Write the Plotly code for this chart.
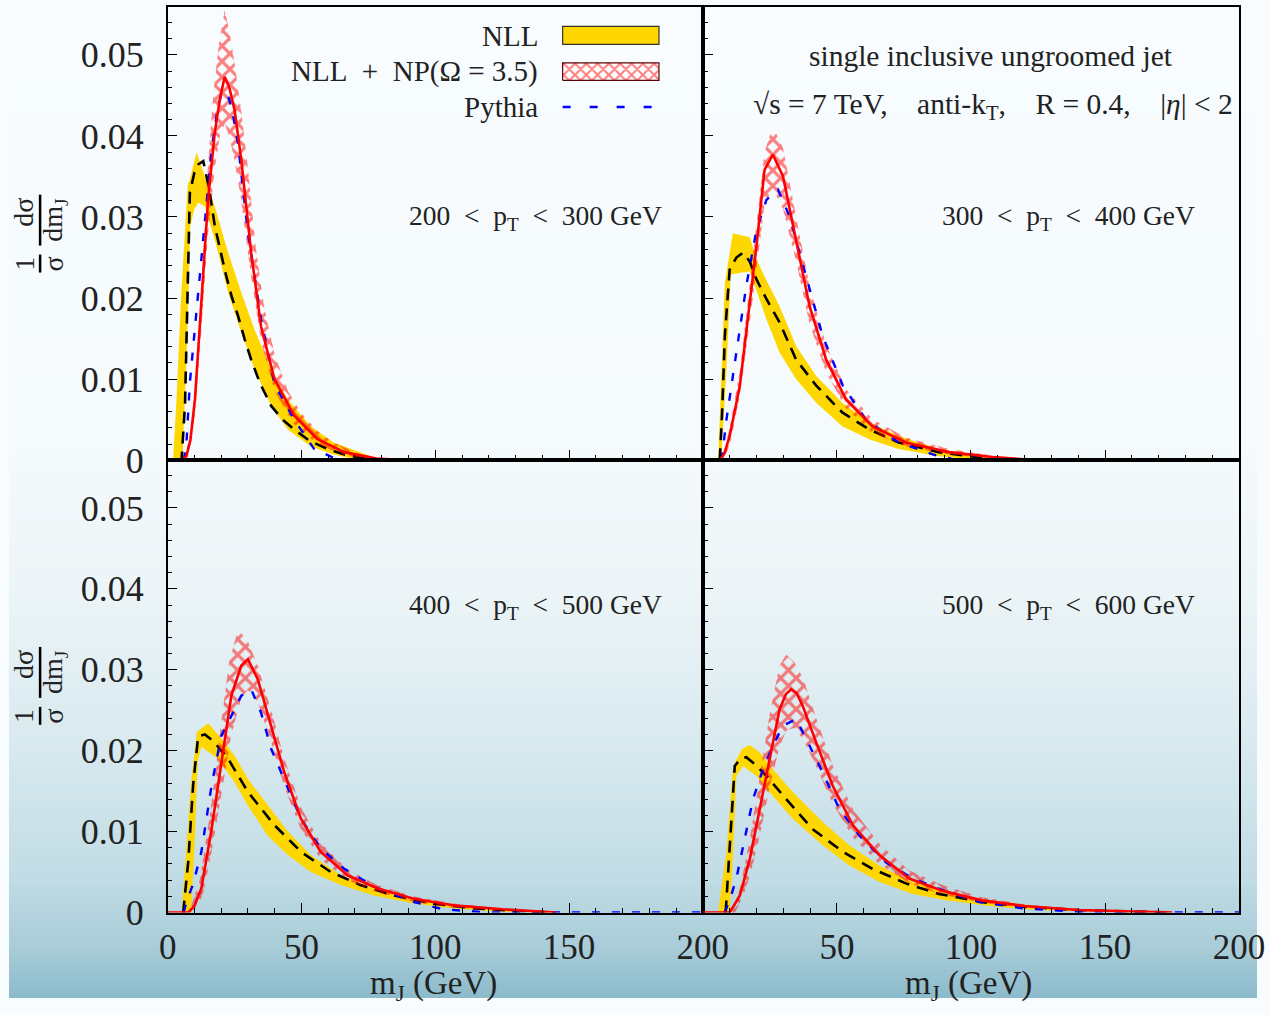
import plotly.graph_objects as go

# ---------------- data ----------------
p1_nll_m = [4, 5.2, 6.5, 7.1, 8.3, 10, 11.5, 13.3, 15.5, 17.6, 19.8, 21.9, 24, 26.3, 28.7, 31.2, 34.5, 38.7, 43, 47.3, 53, 59.7, 66, 72, 80, 90]
p1_nll_v = [0, 0, 0.007, 0.0158, 0.033, 0.0355, 0.0365, 0.0369, 0.0335, 0.0289, 0.0256, 0.0227, 0.0201, 0.0178, 0.015, 0.0124, 0.0095, 0.0067, 0.005, 0.0038, 0.0024, 0.0014, 0.0007, 0.0003, 0.0001, 0]
p1_nllhi_m = [2, 3.3, 5, 7.5, 8.2, 10.8, 13.9, 17.6, 22.6, 27.5, 32.5, 38.7, 44.9, 53.5, 62, 72, 80]
p1_nllhi_v = [0, 0.0075, 0.02, 0.034, 0.0345, 0.038, 0.035, 0.0313, 0.0256, 0.0207, 0.0161, 0.0112, 0.0075, 0.0042, 0.0022, 0.001, 0]
p1_nlllo_m = [5.5, 7, 8.5, 10, 11.5, 13.9, 17.6, 22.6, 27.5, 32.5, 38.7, 44.9, 53.5, 62, 72]
p1_nlllo_v = [0, 0.012, 0.029, 0.031, 0.0318, 0.0313, 0.0272, 0.0207, 0.0158, 0.0112, 0.0067, 0.0038, 0.0017, 0.0007, 0]
p1_np_m = [0, 5.2, 7, 8.5, 10.2, 12.6, 15.1, 17.6, 19.5, 21.3, 23, 25, 27.5, 31.2, 34.9, 39.9, 47.3, 56, 66, 78, 90]
p1_np_v = [0, 0, 0.0005, 0.0025, 0.0075, 0.0198, 0.0321, 0.0404, 0.0445, 0.0473, 0.046, 0.0432, 0.0371, 0.0256, 0.0165, 0.010, 0.0055, 0.0026, 0.001, 0.0002, 0]
p1_nphi_m = [6, 9, 11, 13, 15, 17, 19, 21.3, 23, 25, 27.5, 30, 33, 36, 40, 45, 50, 56, 62, 70, 78]
p1_nphi_v = [0, 0.004, 0.012, 0.024, 0.036, 0.045, 0.051, 0.0555, 0.053, 0.049, 0.043, 0.036, 0.026, 0.019, 0.013, 0.0085, 0.0058, 0.0036, 0.0022, 0.001, 0]
p1_nplo_m = [7, 10, 12.6, 15.1, 17.6, 19.5, 21.3, 23, 25, 27.5, 31, 35, 40, 47, 56, 66, 78]
p1_nplo_v = [0, 0.005, 0.016, 0.028, 0.036, 0.040, 0.0415, 0.040, 0.037, 0.032, 0.023, 0.0145, 0.0085, 0.0045, 0.002, 0.0006, 0]
p1_py_m = [6, 7, 8.3, 10.8, 13.3, 16.4, 18.5, 20.1, 21.5, 22.6, 24.5, 26.3, 30, 34.9, 39.9, 47.3, 54.7, 62, 70, 200]
p1_py_v = [0, 0.002, 0.0096, 0.0186, 0.028, 0.0383, 0.043, 0.0453, 0.0455, 0.045, 0.0425, 0.039, 0.028, 0.0174, 0.0094, 0.005, 0.0014, 0.0003, 0, 0]

p2_nll_m = [6.3, 7.2, 8.2, 10, 12.5, 15, 17.5, 20, 24, 28.6, 34.8, 42.3, 52, 62, 73, 88, 104, 114]
p2_nll_v = [0, 0.006, 0.0153, 0.0235, 0.025, 0.0256, 0.0245, 0.0223, 0.0197, 0.017, 0.0124, 0.0092, 0.0059, 0.0038, 0.0022, 0.001, 0.0003, 0]
p2_nllhi_m = [5.7, 8.2, 11.2, 17.5, 20, 23.7, 28.6, 34.8, 42.3, 52, 62, 73, 88, 104, 114]
p2_nllhi_v = [0, 0.0219, 0.028, 0.0275, 0.0248, 0.0222, 0.019, 0.0141, 0.0104, 0.0071, 0.0047, 0.003, 0.0014, 0.0005, 0]
p2_nlllo_m = [6.8, 8.8, 10.4, 17.5, 23.7, 28.6, 34.8, 42.3, 52, 62, 73, 88, 104]
p2_nlllo_v = [0, 0.0112, 0.0229, 0.0233, 0.0174, 0.0133, 0.010, 0.0071, 0.0042, 0.0026, 0.0014, 0.0005, 0]
p2_np_m = [0, 6.3, 8, 10, 13.8, 17.5, 20, 23, 26.1, 29.9, 34.8, 39.8, 46, 53.4, 63.2, 75.7, 91.8, 108, 125]
p2_np_v = [0, 0, 0.0008, 0.003, 0.0092, 0.0194, 0.0264, 0.0358, 0.0377, 0.035, 0.0272, 0.019, 0.0124, 0.0075, 0.0042, 0.0022, 0.001, 0.0004, 0]
p2_nphi_m = [7, 10, 13.8, 17.5, 20, 23, 26.1, 29.9, 34.8, 39.8, 46, 53.4, 63.2, 75.7, 91.8, 108, 125]
p2_nphi_v = [0, 0.004, 0.011, 0.022, 0.029, 0.038, 0.0412, 0.0385, 0.030, 0.0215, 0.0142, 0.0088, 0.0051, 0.0028, 0.0014, 0.0006, 0]
p2_nplo_m = [8, 10.5, 13.8, 17.5, 20, 23, 26.1, 29.9, 34.8, 39.8, 46, 53.4, 63.2, 75.7, 91.8, 108, 120]
p2_nplo_v = [0, 0.0025, 0.008, 0.017, 0.0235, 0.0315, 0.0335, 0.031, 0.0245, 0.0168, 0.0108, 0.0064, 0.0034, 0.0017, 0.0007, 0.0002, 0]
p2_py_m = [7, 8.8, 12.5, 16.2, 20, 23.7, 28, 32.3, 38.5, 44.7, 52.2, 60.8, 73, 86, 95, 200]
p2_py_v = [0, 0.005, 0.0133, 0.0215, 0.0284, 0.0321, 0.0334, 0.0301, 0.0227, 0.0153, 0.0092, 0.005, 0.0022, 0.0007, 0, 0]

p3_nll_m = [5.8, 7.7, 9.5, 11.4, 13.9, 17, 22.6, 30, 39.9, 49.8, 61, 72, 84.5, 99.4, 115, 130, 145]
p3_nll_v = [0, 0.0063, 0.0157, 0.0218, 0.022, 0.0212, 0.019, 0.0149, 0.0108, 0.0075, 0.005, 0.0034, 0.0021, 0.0011, 0.0005, 0.0002, 0]
p3_nllhi_m = [5.2, 8.9, 10.9, 15.1, 19.4, 25, 30, 37.4, 44.9, 53.5, 64.7, 77, 92, 107, 125, 145]
p3_nllhi_v = [0, 0.0165, 0.0223, 0.0234, 0.0218, 0.0194, 0.0165, 0.0132, 0.010, 0.0071, 0.0046, 0.003, 0.0017, 0.0009, 0.0003, 0]
p3_nlllo_m = [8.7, 10, 11.2, 12.5, 18.8, 25, 30, 37.4, 44.9, 53.5, 64.7, 77, 92, 107, 125, 140]
p3_nlllo_v = [0, 0.008, 0.0185, 0.0205, 0.019, 0.0161, 0.0132, 0.0095, 0.0071, 0.005, 0.0034, 0.0021, 0.0011, 0.0005, 0.0001, 0]
p3_np_m = [0, 7.7, 10, 12.6, 16.4, 20, 23.8, 27.5, 30, 33.7, 38.7, 43.6, 49.8, 57.2, 67.2, 78.3, 91.9, 106.8, 125, 145]
p3_np_v = [0, 0, 0.0008, 0.003, 0.0103, 0.0181, 0.0268, 0.0305, 0.0313, 0.0288, 0.0231, 0.0173, 0.0116, 0.0075, 0.0046, 0.003, 0.0017, 0.0009, 0.0004, 0]
p3_nphi_m = [8, 12, 16.4, 20, 23, 26.3, 30, 33.7, 38.7, 43.6, 49.8, 57.2, 67.2, 78.3, 91.9, 106.8, 125, 145]
p3_nphi_v = [0, 0.004, 0.0135, 0.0235, 0.031, 0.035, 0.0335, 0.0305, 0.025, 0.019, 0.013, 0.0086, 0.0053, 0.0034, 0.002, 0.0011, 0.0005, 0]
p3_nplo_m = [9, 13, 16.4, 20, 23.8, 27.5, 30, 33.7, 38.7, 43.6, 49.8, 57.2, 67.2, 78.3, 91.9, 106.8, 125, 140]
p3_nplo_v = [0, 0.002, 0.0075, 0.0145, 0.022, 0.0265, 0.0275, 0.026, 0.021, 0.0155, 0.0103, 0.0066, 0.004, 0.0025, 0.0013, 0.0006, 0.0002, 0]
p3_py_m = [6, 7, 9.5, 12.6, 16.4, 20, 23.8, 27.5, 31.2, 34.9, 38.7, 43.6, 49.8, 57.2, 66, 78.3, 92, 103, 120, 200]
p3_py_v = [0, 0.0013, 0.0035, 0.0075, 0.0157, 0.0218, 0.0243, 0.0268, 0.0276, 0.0247, 0.0202, 0.0165, 0.0116, 0.0079, 0.0054, 0.003, 0.0013, 0.0004, 0, 0]

p4_nll_m = [8.5, 9.4, 10.7, 11.9, 14, 16.2, 19.5, 23.7, 31.1, 41, 52.2, 63.3, 75.7, 88, 104, 120, 140, 160, 175]
p4_nll_v = [0, 0.005, 0.0116, 0.0181, 0.019, 0.0192, 0.0183, 0.0169, 0.014, 0.0103, 0.0075, 0.0054, 0.0036, 0.0023, 0.0013, 0.0007, 0.0003, 0.0001, 0]
p4_nllhi_m = [5.7, 8.8, 11.3, 14.6, 17.5, 21.2, 26.1, 33.5, 44.7, 54.6, 65.8, 78.2, 90.7, 106.8, 125, 145, 170]
p4_nllhi_v = [0, 0.0075, 0.0181, 0.0202, 0.0207, 0.0198, 0.0177, 0.0149, 0.0112, 0.0083, 0.0058, 0.0038, 0.0025, 0.0015, 0.0008, 0.0003, 0]
p4_nlllo_m = [10, 11.3, 12.5, 15, 19.9, 26.1, 33.5, 44.7, 54.6, 65.8, 78.2, 90.7, 106.8, 125, 150, 165]
p4_nlllo_v = [0, 0.0075, 0.0169, 0.0181, 0.0169, 0.0144, 0.0116, 0.0083, 0.0058, 0.0038, 0.0023, 0.0015, 0.0008, 0.0003, 0.0001, 0]
p4_np_m = [0, 10, 11.5, 13.8, 17.5, 21.2, 24.9, 28.6, 31, 33, 35, 37.3, 42.3, 48.4, 55.9, 65.8, 77, 89.3, 104, 120, 140, 160, 175]
p4_np_v = [0, 0, 0.0008, 0.0021, 0.0066, 0.0128, 0.019, 0.0251, 0.027, 0.0276, 0.0271, 0.0255, 0.021, 0.0157, 0.0108, 0.0071, 0.0042, 0.0027, 0.0015, 0.0008, 0.0003, 0.0001, 0]
p4_nphi_m = [11, 13.8, 17.5, 21.2, 24.9, 28.6, 31.1, 34, 37.3, 42.3, 48.4, 55.9, 65.8, 77, 89.3, 104, 120, 140, 160, 175]
p4_nphi_v = [0, 0.003, 0.009, 0.0165, 0.0245, 0.0305, 0.0319, 0.031, 0.029, 0.024, 0.0182, 0.0128, 0.0085, 0.0052, 0.0034, 0.0019, 0.001, 0.0004, 0.0001, 0]
p4_nplo_m = [12, 15, 17.5, 21.2, 24.9, 28.6, 31.1, 34, 37.3, 42.3, 48.4, 55.9, 65.8, 77, 89.3, 104, 120, 140, 165]
p4_nplo_v = [0, 0.002, 0.0045, 0.0095, 0.0155, 0.0205, 0.0225, 0.0228, 0.0215, 0.018, 0.0135, 0.0093, 0.006, 0.0036, 0.0022, 0.0012, 0.0006, 0.0002, 0]
p4_py_m = [8.1, 10, 12.5, 16.2, 18.7, 22.4, 26.1, 29.9, 34.8, 39.8, 44.7, 50.9, 58.4, 68.3, 78.3, 90.7, 103, 120, 140, 150, 200]
p4_py_v = [0, 0.0015, 0.0042, 0.01, 0.014, 0.0177, 0.0206, 0.0231, 0.0239, 0.0206, 0.0173, 0.0128, 0.0095, 0.0062, 0.0042, 0.0026, 0.0013, 0.0005, 0.0001, 0, 0]

panel_labels = ["200 < p<sub>T</sub> < 300 GeV", "300 < p<sub>T</sub> < 400 GeV",
                "400 < p<sub>T</sub> < 500 GeV", "500 < p<sub>T</sub> < 600 GeV"]
legend_labels = ["NLL", "NLL + NP(Ω = 3.5)", "Pythia"]
x_ticks = [0, 50, 100, 150, 200]
y_ticks = [0, 0.01, 0.02, 0.03, 0.04, 0.05]

panels = [
    (p1_nll_m, p1_nll_v, p1_nllhi_m, p1_nllhi_v, p1_nlllo_m, p1_nlllo_v, p1_np_m, p1_np_v, p1_nphi_m, p1_nphi_v, p1_nplo_m, p1_nplo_v, p1_py_m, p1_py_v),
    (p2_nll_m, p2_nll_v, p2_nllhi_m, p2_nllhi_v, p2_nlllo_m, p2_nlllo_v, p2_np_m, p2_np_v, p2_nphi_m, p2_nphi_v, p2_nplo_m, p2_nplo_v, p2_py_m, p2_py_v),
    (p3_nll_m, p3_nll_v, p3_nllhi_m, p3_nllhi_v, p3_nlllo_m, p3_nlllo_v, p3_np_m, p3_np_v, p3_nphi_m, p3_nphi_v, p3_nplo_m, p3_nplo_v, p3_py_m, p3_py_v),
    (p4_nll_m, p4_nll_v, p4_nllhi_m, p4_nllhi_v, p4_nlllo_m, p4_nlllo_v, p4_np_m, p4_np_v, p4_nphi_m, p4_nphi_v, p4_nplo_m, p4_nplo_v, p4_py_m, p4_py_v),
]

# ---------------- styling ----------------
# The photographed page shows the figure slightly reduced and shifted, so the figure is
# sized so that, after that, its frame lands where the reference frame is.
SX, SY = 0.976, 0.981
OX, OY = 6.8, 0.0
W, H = 1283, 1019
FONT = "Liberation Serif"
GOLD = "#FFD700"
RED = "#FF0000"
BLUE = "#0000FF"

def px(X):
    return ((X - OX) / SX) / W

def py(Y):
    return 1 - ((Y - OY) / SY) / H

XL = (166, 703)
XR = (703, 1241)
YT = (7, 461)
YB = (461, 914)
YMAX = 0.0559

fig = go.Figure()
axn = ["", "2", "3", "4"]

for i, pdata in enumerate(panels):
    (nm, nv, hm, hv, lm, lv, npm, npv, nhm, nhv, nlm, nlv, pym, pyv) = pdata
    xa = "x" + axn[i]
    ya = "y" + axn[i]
    fig.add_trace(go.Scatter(x=hm + lm[::-1], y=hv + lv[::-1], fill="toself", fillcolor=GOLD,
                             line=dict(width=0, color=GOLD), mode="lines", hoverinfo="skip",
                             showlegend=False, xaxis=xa, yaxis=ya))
    fig.add_trace(go.Scatter(x=nm, y=nv, mode="lines", line=dict(color="black", width=2.6, dash="12px,8px"),
                             showlegend=False, xaxis=xa, yaxis=ya))
    fig.add_trace(go.Scatter(x=nhm + nlm[::-1], y=nhv + nlv[::-1], fill="toself", fillcolor="rgba(0,0,0,0)",
                             fillpattern=dict(shape="x", fgcolor=RED, bgcolor="rgba(0,0,0,0)", size=11, solidity=0.5),
                             line=dict(width=0, color="rgba(0,0,0,0)"), mode="lines", hoverinfo="skip",
                             showlegend=False, xaxis=xa, yaxis=ya))
    fig.add_trace(go.Scatter(x=pym, y=pyv, mode="lines", line=dict(color=BLUE, width=2.4, dash="8px,12px"),
                             showlegend=False, xaxis=xa, yaxis=ya))
    fig.add_trace(go.Scatter(x=npm, y=npv, mode="lines", line=dict(color=RED, width=2.6),
                             showlegend=False, xaxis=xa, yaxis=ya))

fig.add_trace(go.Scatter(x=[147.6, 183.6, 183.6, 147.6, 147.6], y=[0.04685, 0.04685, 0.0490, 0.0490, 0.04685],
                         fill="toself", fillcolor="rgba(255,255,255,0.7)",
                         fillpattern=dict(shape="x", fgcolor=RED, bgcolor="rgba(255,255,255,0.7)", size=8, solidity=0.45),
                         line=dict(width=1.2, color="#5a0000"), mode="lines", showlegend=False, hoverinfo="skip",
                         xaxis="x", yaxis="y"))

shapes = []
stops = [(0, (248, 252, 254)), (450, (245, 250, 252)), (600, (235, 244, 247)), (750, (216, 233, 239)),
         (880, (193, 220, 229)), (950, (168, 204, 216)), (1015, (130, 181, 199))]

def col_at(Y):
    for (y0, c0), (y1, c1) in zip(stops[:-1], stops[1:]):
        if y0 <= Y <= y1:
            t = (Y - y0) / (y1 - y0)
            return "rgb(%d,%d,%d)" % tuple(round(c0[k] + t * (c1[k] - c0[k])) for k in range(3))
    return "rgb(%d,%d,%d)" % stops[-1][1]

step = 5
for fy in range(0, H, step):
    y_top = 1 - fy / H
    y_bot = max(0.0, 1 - (fy + step + 1) / H)
    shapes.append(dict(type="rect", xref="paper", yref="paper", x0=0, x1=1, y0=y_bot, y1=y_top,
                       fillcolor=col_at((fy + step / 2) * SY + OY), line=dict(width=0), layer="below"))

shapes.append(dict(type="rect", xref="x", yref="y", x0=147.6, x1=183.6, y0=0.0513, y1=0.0535,
                   fillcolor=GOLD, line=dict(color="#333", width=1.2)))
shapes.append(dict(type="line", xref="x", yref="y", x0=147.6, x1=182, y0=0.04356, y1=0.04356,
                   line=dict(color=BLUE, width=2.4, dash="8px,19px")))

for off in (0, 453):
    shapes.append(dict(type="line", xref="paper", yref="paper", x0=px(38), x1=px(38), y0=py(195 + off), y1=py(246 + off),
                       line=dict(color="black", width=2.5)))
    shapes.append(dict(type="line", xref="paper", yref="paper", x0=px(38), x1=px(38), y0=py(255 + off), y1=py(273 + off),
                       line=dict(color="black", width=2.5)))

ann = []
nb = "\u00a0"
tfont = dict(family=FONT, size=27.5, color="#222")
lbl_pos = [("x", "y", 185.5, 0.0299), ("x2", "y2", 184.4, 0.0299), ("x3", "y3", 185.5, 0.0378), ("x4", "y4", 184.4, 0.0378)]
for (xr, yr, xv, yv), t in zip(lbl_pos, panel_labels):
    ann.append(dict(xref=xr, yref=yr, x=xv, y=yv, text=t.replace(" < ", nb + nb + "<" + nb + nb),
                    showarrow=False, xanchor="right", yanchor="middle", font=tfont))

lfont = dict(family=FONT, size=29, color="#222")
legend_text = [legend_labels[0], legend_labels[1].replace(" + ", nb + nb + "+" + nb + nb).replace(" ", nb), legend_labels[2]]
for t, yv in zip(legend_text, [0.0523, 0.0479, 0.04356]):
    ann.append(dict(xref="x", yref="y", x=139, y=yv, text=t, showarrow=False,
                    xanchor="right", yanchor="middle", font=lfont))

hfont = dict(family=FONT, size=29.5, color="#222")
ann.append(dict(xref="x2", yref="y2", x=107.4, y=0.0498, text="single inclusive ungroomed jet", showarrow=False,
                xanchor="center", yanchor="middle", font=hfont))
gap = nb * 4
ann.append(dict(xref="x2", yref="y2", x=108.2, y=0.0437,
                text="√s" + nb + "=" + nb + "7 TeV," + gap + "anti-k<sub>T</sub>," + gap + "R" + nb + "=" + nb
                     + "0.4," + gap + "|<i>η</i>|" + nb + "<" + nb + "2",
                showarrow=False, xanchor="center", yanchor="middle", font=hfont))

for xc in (433, 970):
    ann.append(dict(xref="paper", yref="paper", x=px(xc), y=py(987), text="m<sub>J</sub> (GeV)", showarrow=False,
                    xanchor="center", yanchor="middle", font=dict(family=FONT, size=33, color="#222")))

yfont = dict(family=FONT, size=28, color="#222")
for off in (0, 453):
    for x0, y0, t in [(22, 213, "dσ"), (53, 220, "dm<sub>J</sub>"), (22, 264, "1"), (52, 265, "σ")]:
        ann.append(dict(xref="paper", yref="paper", x=px(x0), y=py(y0 + off), text=t, textangle=-90,
                        showarrow=False, xanchor="center", yanchor="middle", font=yfont))

common_x = dict(range=[0, 200], ticks="inside", ticklen=10, tickwidth=1.3, tickcolor="black",
                showline=True, linecolor="black", linewidth=1.5, mirror=True, showgrid=False, zeroline=False,
                minor=dict(dtick=10, ticks="inside", ticklen=5, tickcolor="black", tickwidth=1.2),
                tickfont=dict(family=FONT, size=35, color="#222"), ticklabelstandoff=3)
common_y = dict(range=[0, YMAX], ticks="inside", ticklen=10, tickwidth=1.3, tickcolor="black",
                showline=True, linecolor="black", linewidth=1.5, mirror=True, showgrid=False, zeroline=False,
                tickvals=y_ticks, minor=dict(dtick=0.002, tick0=0, ticks="inside", ticklen=5, tickcolor="black", tickwidth=1.2),
                tickfont=dict(family=FONT, size=36, color="#222"), ticklabelstandoff=15)

layout_axes = {}
doms = [(XL, YT), (XR, YT), (XL, YB), (XR, YB)]
for i, ((xa0, xa1), (ya0, ya1)) in enumerate(doms):
    xk = "xaxis" + axn[i]
    yk = "yaxis" + axn[i]
    xd = dict(common_x)
    xd.update(domain=[px(xa0), px(xa1)], anchor="y" + axn[i], tickvals=x_ticks)
    yd = dict(common_y)
    yd.update(domain=[py(ya1), py(ya0)], anchor="x" + axn[i])
    if i < 2:
        xd["showticklabels"] = False
    if i == 3:
        xd["ticktext"] = ["", "50", "100", "150", "200"]
    else:
        xd["ticktext"] = [str(v) for v in x_ticks]
    if i in (1, 3):
        yd["showticklabels"] = False
    layout_axes[xk] = xd
    layout_axes[yk] = yd

fig.update_layout(width=W, height=H, margin=dict(l=0, r=0, t=0, b=0), autosize=False,
                  paper_bgcolor="rgb(248,252,254)", plot_bgcolor="rgba(0,0,0,0)",
                  shapes=shapes, annotations=ann, showlegend=False, **layout_axes)

fig.write_html("out.html", config={"displayModeBar": False})
